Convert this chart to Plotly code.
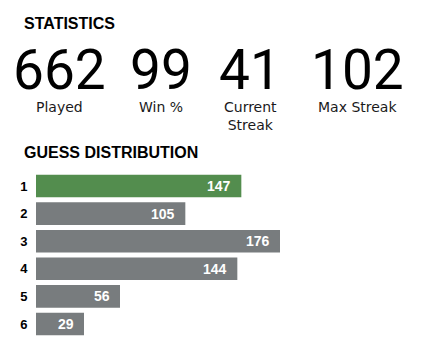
import plotly.graph_objects as go

# ---- data ----
stat_values = ["662", "99", "41", "102"]
stat_labels = ["Played", "Win %", "Current<br>Streak", "Max Streak"]
guesses = ["1", "2", "3", "4", "5", "6"]
counts = [147, 105, 176, 144, 56, 29]
highlight = "1"

# page body has an 8px margin; size the figure so it fills the 436x361 window
OFF = 8
W, H = 436 - OFF, 361 - OFF
PAD = 7  # bar padding (in count units) so labels fit inside short bars
GREEN = "#538d4e"
GRAY = "#787c7e"
FONT = "Liberation Sans, Arial, sans-serif"

colors = [GREEN if g == highlight else GRAY for g in guesses]
idx = list(range(len(guesses)))

fig = go.Figure()
fig.add_trace(go.Bar(
    y=idx,
    x=[c + PAD for c in counts],
    orientation="h",
    marker=dict(color=colors, line=dict(width=0)),
    hoverinfo="skip",
))


def px(x):
    return (x - OFF) / W


def py(y):
    return (H - (y - OFF)) / H


annotations = []
for i, c in zip(idx, counts):
    annotations.append(dict(
        x=c + PAD, y=i, xref="x", yref="y", text=f"<b>{c}</b>",
        showarrow=False, xanchor="right", yanchor="middle", xshift=-8,
        font=dict(family=FONT, size=14, color="white"),
    ))

annotations.append(dict(
    x=px(22), y=py(23.3), xref="paper", yref="paper", text="<b>STATISTICS</b>",
    showarrow=False, xanchor="left", yanchor="middle",
    font=dict(family=FONT, size=16, color="black"),
))
annotations.append(dict(
    x=px(22), y=py(152.5), xref="paper", yref="paper", text="<b>GUESS DISTRIBUTION</b>",
    showarrow=False, xanchor="left", yanchor="middle",
    font=dict(family=FONT, size=16, color="black"),
))

centers = [59, 161, 250, 357]
for cx, v, lab in zip(centers, stat_values, stat_labels):
    annotations.append(dict(
        x=px(cx), y=py(69.5), xref="paper", yref="paper", text=v,
        showarrow=False, xanchor="center", yanchor="middle",
        font=dict(family="Roboto, Liberation Sans, sans-serif", size=55,
                  color="black", weight=400),
    ))
    annotations.append(dict(
        x=px(cx), y=py(97), xref="paper", yref="paper", text=lab,
        showarrow=False, xanchor="center", yanchor="top",
        font=dict(family="DejaVu Sans, sans-serif", size=14, color="#1a1a1b"),
    ))

fig.update_layout(
    width=W, height=H, autosize=False,
    margin=dict(l=0, r=0, t=0, b=0),
    paper_bgcolor="white", plot_bgcolor="white",
    showlegend=False,
    bargap=0.18,
    annotations=annotations,
    xaxis=dict(domain=[px(36), 1], range=[0, 300],
               visible=False, fixedrange=True),
    yaxis=dict(
        domain=[py(337.75), py(172.25)],
        autorange="reversed",
        tickmode="array", tickvals=idx, ticktext=[f"<b>{g}</b>" for g in guesses],
        showgrid=False, zeroline=False, showline=False,
        ticks="outside", ticklen=5, tickcolor="rgba(0,0,0,0)",
        tickfont=dict(family=FONT, size=13, color="black"),
        fixedrange=True,
    ),
)

fig.write_html("out.html")
